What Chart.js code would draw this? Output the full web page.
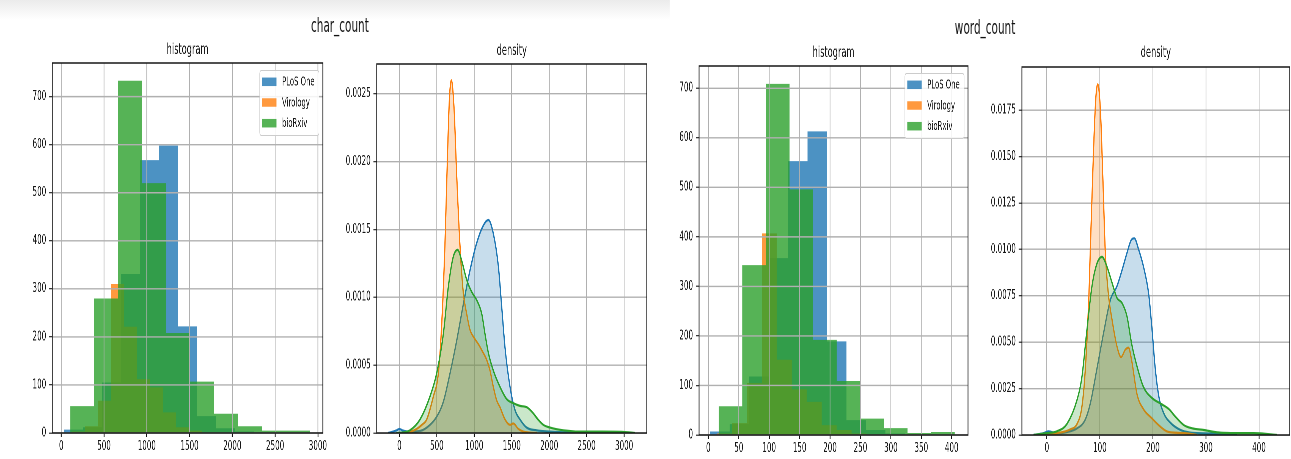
<!DOCTYPE html>
<html>
<head>
<meta charset="utf-8">
<script src="https://cdn.jsdelivr.net/npm/chart.js@4.4.1/dist/chart.umd.min.js"></script>
<style>
  html, body { margin: 0; padding: 0; background: #fff; width: 1291px; height: 459px; overflow: hidden; }
  #fig { position: absolute; left: 0; top: 0; width: 2348px; height: 459px;
         transform: scaleX(0.55); transform-origin: 0 0;
         font-family: "DejaVu Sans", "Liberation Sans", sans-serif; }
  #band { position: absolute; left: 0; top: 0; width: 1218px; height: 20px;
          background: linear-gradient(#ebebeb, #ffffff); }
  .sup { position: absolute; font-size: 19px; color: #111; white-space: nowrap;
         transform: translate(-50%, -50%); }
  canvas { position: absolute; }
</style>
</head>
<body>
<div id="fig">
  <div id="band"></div>
  <div class="sup" style="left:618px; top:25px;">char_count</div>
  <div class="sup" style="left:1791px; top:27px;">word_count</div>
  <canvas id="charHist"></canvas>
  <canvas id="charDens"></canvas>
  <canvas id="wordHist"></canvas>
  <canvas id="wordDens"></canvas>
</div>
<script>
// ---------- journals ----------
const seriesNames = ['PLoS One', 'Virology', 'bioRxiv'];
const seriesRGB = ['31,119,180', '255,127,14', '44,160,44'];

// ---------- char_count histograms (10 bins per journal) ----------
const charEdgesPlos = [35, 257, 479, 701, 923, 1145, 1367, 1589, 1811, 2033, 2255];
const charCountsPlos = [7, 12, 105, 331, 568, 598, 222, 35, 10, 3];
const charEdgesVirology = [125, 277, 429, 581, 733, 885, 1037, 1189, 1341, 1493, 1645];
const charCountsVirology = [3, 14, 67, 310, 221, 112, 95, 43, 12, 5];
const charEdgesBiorxiv = [105, 385, 666, 946, 1226, 1507, 1787, 2067, 2348, 2628, 2908];
const charCountsBiorxiv = [56, 280, 733, 520, 208, 107, 40, 14, 5, 5];

// ---------- word_count histograms ----------
const wordEdgesPlos = [3, 35, 67, 99, 131, 163, 195, 227, 259, 291, 323];
const wordCountsPlos = [7, 22, 118, 357, 553, 613, 189, 30, 10, 3];
const wordEdgesVirology = [14, 38.6, 63.2, 87.8, 112.4, 137, 161.6, 186.2, 210.8, 235.4, 260];
const wordCountsVirology = [3, 24, 105, 407, 152, 92, 67, 20, 10, 3];
const wordEdgesBiorxiv = [17, 55.8, 94.6, 133.4, 172.2, 211, 249.8, 288.6, 327.4, 366.2, 405];
const wordCountsBiorxiv = [58, 343, 709, 496, 192, 109, 33, 14, 4, 6];

// ---------- char_count kernel density estimates ----------
const charDensXPlos = [-150, -36, 0, 40, 142, 276, 409, 498, 587, 676, 765, 854, 943, 1032, 1121, 1188, 1254, 1321, 1366, 1410, 1477, 1543, 1610, 1699, 1833, 2010, 2200, 2410];
const charDensYPlos = [0, 0.00002, 0.00003, 0.00002, 0.00001, 0.000015, 0.00006, 0.00012, 0.00023, 0.00044, 0.00068, 0.00095, 0.0012, 0.0014, 0.00153, 0.00157, 0.00147, 0.00123, 0.00093, 0.00063, 0.00034, 0.00017, 0.0001, 0.00004, 0.00002, 0.00001, 0.000005, 0];
const charDensXVirology = [30, 150, 231, 300, 365, 454, 520, 565, 609, 640, 667, 694, 729, 765, 810, 854, 898, 943, 1000, 1060, 1110, 1165, 1210, 1254, 1299, 1343, 1410, 1477, 1521, 1588, 1655, 1744, 1840];
const charDensYVirology = [0, 0.00001, 0.00003, 0.00006, 0.0001, 0.00027, 0.00044, 0.0008, 0.0014, 0.002, 0.00245, 0.0026, 0.0024, 0.0019, 0.00137, 0.00103, 0.00088, 0.00076, 0.0007, 0.00065, 0.0006, 0.00054, 0.00046, 0.00034, 0.00024, 0.00019, 0.0001, 0.00006, 0.00007, 0.00003, 0.00001, 0.000003, 0];
const charDensXBiorxiv = [-40, 60, 142, 276, 409, 498, 587, 654, 720, 778, 832, 898, 965, 1032, 1099, 1143, 1188, 1254, 1343, 1432, 1521, 1610, 1700, 1780, 1850, 1922, 2010, 2188, 2450, 2700, 2990, 3145];
const charDensYBiorxiv = [0, 0.000005, 0.00002, 0.0001, 0.00027, 0.00044, 0.00073, 0.00108, 0.0013, 0.00135, 0.00127, 0.00113, 0.00104, 0.00098, 0.00088, 0.00073, 0.00059, 0.00046, 0.00034, 0.00025, 0.00022, 0.0002, 0.00019, 0.00015, 0.0001, 0.00006, 0.00004, 0.00002, 0.00001, 0.00001, 0.000008, 0];

// ---------- word_count kernel density estimates ----------
const wordDensXPlos = [-25, -6, 3, 19, 38, 57, 72, 82, 94, 107, 120, 132, 142, 151, 159, 165, 173, 182, 192, 198, 204, 211, 220, 233, 252, 270, 296, 333, 358];
const wordDensYPlos = [0, 0.0001, 0.0002, 0.00009, 0.00016, 0.00036, 0.0008, 0.0017, 0.0035, 0.0055, 0.0073, 0.008, 0.0089, 0.0098, 0.0105, 0.0106, 0.01, 0.0091, 0.0076, 0.0058, 0.0037, 0.0021, 0.0012, 0.00066, 0.00027, 0.00013, 0.00009, 0.00005, 0];
const wordDensXVirology = [-19, 19, 44, 57, 66, 72, 79, 83, 88, 92, 96, 101, 106, 110, 116, 123, 132, 140, 148, 154, 160, 170, 182, 198, 214, 226, 245, 264, 283];
const wordDensYVirology = [0, 0.0001, 0.0003, 0.0006, 0.0015, 0.0033, 0.0073, 0.0109, 0.0153, 0.018, 0.0189, 0.0175, 0.0135, 0.01, 0.0076, 0.0062, 0.0048, 0.0042, 0.0046, 0.0047, 0.004, 0.0022, 0.0014, 0.0009, 0.00045, 0.0002, 0.00012, 0.00009, 0];
const wordDensXBiorxiv = [-25, 0, 19, 38, 57, 66, 75, 85, 94, 104, 113, 123, 132, 142, 151, 160, 170, 182, 198, 214, 230, 242, 258, 274, 296, 321, 358, 390, 434];
const wordDensYBiorxiv = [0, 0.0001, 0.0002, 0.0006, 0.0019, 0.0031, 0.0055, 0.008, 0.0092, 0.0096, 0.0091, 0.0082, 0.0074, 0.0071, 0.0064, 0.0049, 0.0037, 0.0026, 0.002, 0.0017, 0.0014, 0.001, 0.00054, 0.00036, 0.00027, 0.00014, 0.0001, 0.0001, 0];

// ---------- axis ticks ----------
const charXTicks = [0, 500, 1000, 1500, 2000, 2500, 3000];
const charHistYTicks = [0, 100, 200, 300, 400, 500, 600, 700];
const charDensYTicks = [0, 0.0005, 0.001, 0.0015, 0.002, 0.0025];
const wordHistXTicks = [0, 50, 100, 150, 200, 250, 300, 350, 400];
const wordHistYTicks = [0, 100, 200, 300, 400, 500, 600, 700];
const wordDensXTicks = [0, 100, 200, 300, 400];
const wordDensYTicks = [0, 0.0025, 0.005, 0.0075, 0.01, 0.0125, 0.015, 0.0175];

// ---------- styling ----------
const FONT = '"DejaVu Sans", "Liberation Sans", sans-serif';
const GRID = '#b0b0b0';
const GRID_W = 1.4;
const INK = '#161616';
const Y_AXIS_W = 90;   // room for tick labels left of each plot
const X_AXIS_H = 30;   // room for tick labels under each plot
const RIGHT_PAD = 40;
const CANVAS_TOP = 30;
const TITLE_SIZE = 15;

// each bin's count holds from its left edge to the next edge
function histPoints(edges, counts) {
  const pts = counts.map((c, i) => ({ x: edges[i], y: c }));
  pts.push({ x: edges[edges.length - 1], y: counts[counts.length - 1] });
  return pts;
}
function curvePoints(xs, ys) {
  return xs.map((x, i) => ({ x, y: ys[i] }));
}

function histDatasets(groups) {
  return groups.map((g, i) => ({
    label: seriesNames[i],
    data: histPoints(g[0], g[1]),
    stepped: 'before',
    fill: 'origin',
    backgroundColor: `rgba(${seriesRGB[i]},0.8)`,
    borderColor: 'rgba(0,0,0,0)',
    borderWidth: 0,
    pointRadius: 0,
    order: 3 - i
  }));
}
function densDatasets(groups) {
  return groups.map((g, i) => ({
    label: seriesNames[i],
    data: curvePoints(g[0], g[1]),
    cubicInterpolationMode: 'monotone',
    fill: 'origin',
    backgroundColor: `rgba(${seriesRGB[i]},0.25)`,
    borderColor: `rgb(${seriesRGB[i]})`,
    borderWidth: 2.2,
    pointRadius: 0,
    order: 3 - i
  }));
}

// frame, gridlines over the bars, and the in-plot legend
function panelDecor(opts) {
  return {
    id: 'panelDecor',
    afterDatasetsDraw(chart) {
      const ctx = chart.ctx;
      const a = chart.chartArea;
      const sx = chart.scales.x, sy = chart.scales.y;
      ctx.save();
      if (opts.gridOnTop) {
        ctx.strokeStyle = GRID;
        ctx.lineWidth = GRID_W;
        ctx.beginPath();
        sx.ticks.forEach(t => {
          const px = sx.getPixelForValue(t.value);
          ctx.moveTo(px, a.top); ctx.lineTo(px, a.bottom);
        });
        sy.ticks.forEach(t => {
          const py = sy.getPixelForValue(t.value);
          ctx.moveTo(a.left, py); ctx.lineTo(a.right, py);
        });
        ctx.stroke();
      }
      if (opts.legend) {
        const fs = 12.5;
        ctx.font = `${fs}px ${FONT}`;
        const textW = Math.max(...seriesNames.map(n => ctx.measureText(n).width));
        const padL = 4.5, patchW = 26, patchH = 8.5, textX = 40.5, padR = 8;
        const rowGap = 20.7, firstRow = 11.3;
        const boxW = textX + textW + padR;
        const boxH = 65;
        const bx = a.right - 7 - boxW;
        const by = a.top + 7.5;
        ctx.beginPath();
        ctx.roundRect(bx, by, boxW, boxH, 3);
        ctx.fillStyle = 'rgba(255,255,255,0.85)';
        ctx.fill();
        ctx.strokeStyle = '#cccccc';
        ctx.lineWidth = 1;
        ctx.stroke();
        chart.data.datasets.forEach((ds, i) => {
          const cy = by + firstRow + i * rowGap;
          ctx.fillStyle = ds.backgroundColor;
          ctx.fillRect(bx + padL, cy - patchH / 2, patchW, patchH);
          ctx.fillStyle = INK;
          ctx.textBaseline = 'middle';
          ctx.textAlign = 'left';
          ctx.fillText(ds.label, bx + textX, cy + 0.5);
        });
      }
      ctx.strokeStyle = INK;
      ctx.lineWidth = 1.5;
      ctx.strokeRect(a.left, a.top, a.right - a.left, a.bottom - a.top);
      ctx.restore();
    }
  };
}

function axis(range, ticks, fmt, isX, gridOnTop) {
  return {
    type: 'linear',
    min: range[0],
    max: range[1],
    afterBuildTicks: ax => { ax.ticks = ticks.map(v => ({ value: v })); },
    afterFit: ax => { if (isX) ax.height = X_AXIS_H; else ax.width = Y_AXIS_W; },
    border: { display: false },
    grid: {
      color: GRID,
      lineWidth: GRID_W,
      drawOnChartArea: !gridOnTop,
      drawTicks: true,
      tickLength: isX ? 4 : 6,
      tickColor: INK,
      tickWidth: isX ? 1.6 : 1.1
    },
    ticks: {
      color: INK,
      font: { family: FONT, size: 13 },
      padding: isX ? 2 : 5,
      maxRotation: 0,
      minRotation: 0,
      autoSkip: false,
      callback: v => fmt(v)
    }
  };
}

function makePanel(id, rect, titleText, titleCenterY, datasets, xRange, xTicks, yRange, yTicks, yFmt, isHist) {
  const cv = document.getElementById(id);
  const w = rect.R - rect.L + Y_AXIS_W + RIGHT_PAD;
  const h = rect.B - CANVAS_TOP + X_AXIS_H;
  cv.width = w; cv.height = h;
  cv.style.left = (rect.L - Y_AXIS_W) + 'px';
  cv.style.top = CANVAS_TOP + 'px';
  const lh = TITLE_SIZE * 1.2;
  const padTop = titleCenterY - CANVAS_TOP - lh / 2;
  const padBottom = (rect.T - CANVAS_TOP) - padTop - lh;
  return new Chart(cv, {
    type: 'line',
    data: { datasets },
    options: {
      responsive: false,
      animation: false,
      devicePixelRatio: 2,
      events: [],
      layout: { padding: { left: 0, right: RIGHT_PAD, top: 0, bottom: 0 } },
      plugins: {
        legend: { display: false },
        tooltip: { enabled: false },
        title: {
          display: true,
          text: titleText,
          fullSize: false,
          color: INK,
          font: { family: FONT, size: TITLE_SIZE, weight: 'normal' },
          padding: { top: padTop, bottom: padBottom }
        }
      },
      scales: {
        x: axis(xRange, xTicks, v => String(v), true, isHist),
        y: axis(yRange, yTicks, yFmt, false, isHist)
      }
    },
    plugins: [panelDecor({ gridOnTop: isHist, legend: isHist })]
  });
}

const countFmt = v => String(v);
const densFmt = v => v.toFixed(4);

makePanel('charHist', { L: 95, R: 587, T: 63, B: 433 }, 'histogram', 50,
  histDatasets([[charEdgesPlos, charCountsPlos], [charEdgesVirology, charCountsVirology], [charEdgesBiorxiv, charCountsBiorxiv]]),
  [-105, 3058], charXTicks, [0, 770], charHistYTicks, countFmt, true);

makePanel('charDens', { L: 685, R: 1176, T: 64, B: 433 }, 'density', 51,
  densDatasets([[charDensXPlos, charDensYPlos], [charDensXVirology, charDensYVirology], [charDensXBiorxiv, charDensYBiorxiv]]),
  [-302, 3303], charXTicks, [0, 0.00272], charDensYTicks, densFmt, false);

makePanel('wordHist', { L: 1271, R: 1760, T: 66, B: 435 }, 'histogram', 53,
  histDatasets([[wordEdgesPlos, wordCountsPlos], [wordEdgesVirology, wordCountsVirology], [wordEdgesBiorxiv, wordCountsBiorxiv]]),
  [-15.3, 426.8], wordHistXTicks, [0, 745], wordHistYTicks, countFmt, true);

makePanel('wordDens', { L: 1858, R: 2345, T: 67, B: 435 }, 'density', 53,
  densDatasets([[wordDensXPlos, wordDensYPlos], [wordDensXVirology, wordDensYVirology], [wordDensXBiorxiv, wordDensYBiorxiv]]),
  [-47, 458], wordDensXTicks, [0, 0.01983], wordDensYTicks, densFmt, false);
</script>
</body>
</html>
